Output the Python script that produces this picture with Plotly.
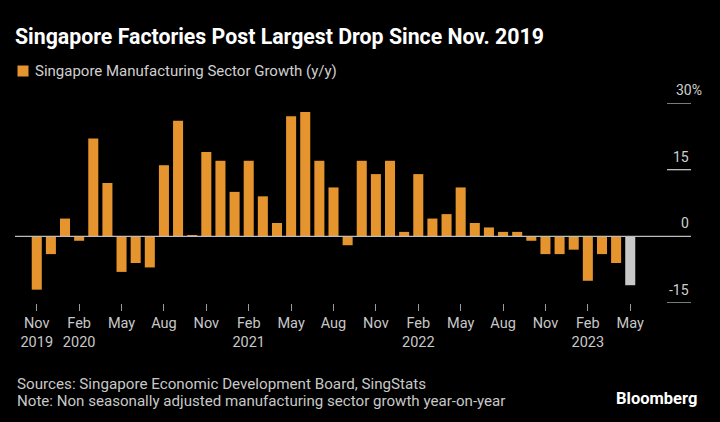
import plotly.graph_objects as go

# ---- data ----
months = ["2019-11", "2019-12", "2020-01", "2020-02", "2020-03", "2020-04", "2020-05", "2020-06",
          "2020-07", "2020-08", "2020-09", "2020-10", "2020-11", "2020-12", "2021-01", "2021-02",
          "2021-03", "2021-04", "2021-05", "2021-06", "2021-07", "2021-08", "2021-09", "2021-10",
          "2021-11", "2021-12", "2022-01", "2022-02", "2022-03", "2022-04", "2022-05", "2022-06",
          "2022-07", "2022-08", "2022-09", "2022-10", "2022-11", "2022-12", "2023-01", "2023-02",
          "2023-03", "2023-04", "2023-05"]
growth = [-12.0, -4.0, 4.0, -1.0, 22.0, 12.0, -8.0, -6.0,
          -7.0, 16.0, 26.0, 0.1, 19.0, 17.0, 10.0, 17.0,
          9.0, 3.0, 27.0, 28.0, 17.0, 11.0, -2.0, 17.0,
          14.0, 17.0, 1.0, 14.0, 4.0, 5.0, 11.0, 3.0,
          2.0, 1.0, 1.0, -1.0, -4.0, -4.0, -3.0, -10.0,
          -4.0, -6.0, -11.0]
tick_months = ["2019-11", "2020-02", "2020-05", "2020-08", "2020-11", "2021-02", "2021-05",
               "2021-08", "2021-11", "2022-02", "2022-05", "2022-08", "2022-11", "2023-02", "2023-05"]
tick_text = ["Nov<br>2019", "Feb<br>2020", "May", "Aug", "Nov", "Feb<br>2021", "May",
             "Aug", "Nov", "Feb<br>2022", "May", "Aug", "Nov", "Feb<br>2023", "May"]
y_ticks = [30, 15, 0, -15]
y_tick_text = ["30%", "15", "0", "-15"]
series_name = "Singapore Manufacturing Sector Growth (y/y)"

ORANGE = "#E6952E"
GREY_BAR = "#C8C8C8"
colors = [ORANGE] * (len(growth) - 1) + [GREY_BAR]

x_idx = list(range(len(months)))
tick_idx = [months.index(m) for m in tick_months]

FONT = "Roboto"

fig = go.Figure()
fig.add_trace(go.Bar(
    x=x_idx, y=growth, marker=dict(color=colors, line=dict(width=0)),
    name=series_name, showlegend=False,
))

L, R, T, B = 15, 29, 103, 119
W, H = 720, 422
pw, ph = W - L - R, H - T - B

def px_to_paper_x(px):
    return (px - L) / pw

def px_to_paper_y(py):
    return (H - B - py) / ph

shapes = []
shapes.append(dict(type="line", xref="paper", yref="y", x0=0, x1=1, y0=0, y1=0,
                   line=dict(color="#BDBDBD", width=1.3), layer="above"))
annotations = []
for v, t in zip(y_ticks, y_tick_text):
    if v != 0:
        shapes.append(dict(type="line", xref="paper", yref="y", x0=px_to_paper_x(667), x1=1,
                           y0=v, y1=v, line=dict(color="#BDBDBD", width=1.3)))
    annotations.append(dict(xref="paper", yref="y", x=1, y=v, text=t, showarrow=False,
                            xanchor="right", yanchor="bottom", yshift=3,
                            xshift=13 if t.endswith("%") else 0,
                            font=dict(family=FONT, size=14, color="#D0D0D0")))

# legend (manual, to match spacing)
shapes.append(dict(type="rect", xref="paper", yref="paper",
                   x0=px_to_paper_x(17.5), x1=px_to_paper_x(28.5),
                   y0=px_to_paper_y(65.5), y1=px_to_paper_y(76.5),
                   fillcolor=ORANGE, line=dict(width=0)))
annotations.append(dict(xref="paper", yref="paper", x=px_to_paper_x(33), y=px_to_paper_y(71),
                        text=series_name, showarrow=False, xanchor="left", yanchor="middle",
                        font=dict(family=FONT, size=15, color="#D0D0D0")))

annotations.append(dict(xref="paper", yref="paper", x=px_to_paper_x(15), y=px_to_paper_y(384),
                        text="Sources: Singapore Economic Development Board, SingStats",
                        showarrow=False, xanchor="left", yanchor="middle",
                        font=dict(family=FONT, size=15.2, color="#C8C8C8")))
annotations.append(dict(xref="paper", yref="paper", x=px_to_paper_x(15), y=px_to_paper_y(401),
                        text="Note: Non seasonally adjusted manufacturing sector growth year-on-year",
                        showarrow=False, xanchor="left", yanchor="middle",
                        font=dict(family=FONT, size=15.1, color="#C8C8C8")))
annotations.append(dict(xref="paper", yref="paper", x=px_to_paper_x(699), y=px_to_paper_y(398),
                        text="<b>Bloomberg</b>", showarrow=False, xanchor="right", yanchor="middle",
                        font=dict(family=FONT, size=16.5, color="#FFFFFF")))

fig.update_layout(
    width=W, height=H,
    margin=dict(l=L, r=R, t=T, b=B),
    paper_bgcolor="#000000", plot_bgcolor="#000000",
    title=dict(text="<b>Singapore Factories Post Largest Drop Since Nov. 2019</b>",
               x=15 / W, xanchor="left", xref="container",
               y=1 - 37 / H, yanchor="middle", yref="container",
               font=dict(family=FONT, size=21.3, color="#FFFFFF")),
    showlegend=False,
    bargap=0.29,
    xaxis=dict(range=[-1.54, 46.3], tickmode="array", tickvals=tick_idx, ticktext=tick_text,
               ticks="outside", ticklen=7, tickwidth=1, tickcolor="#9A9A9A",
               showgrid=False, zeroline=False, showline=False,
               tickfont=dict(family=FONT, size=14.5, color="#C8C8C8")),
    yaxis=dict(range=[-15, 30], showticklabels=False, showgrid=False, zeroline=False,
               showline=False, ticks=""),
    shapes=shapes, annotations=annotations,
)

fig.write_html("out.html", config={"displayModeBar": False},
               post_script="document.body.style.margin='0';document.body.style.background='#000';")
